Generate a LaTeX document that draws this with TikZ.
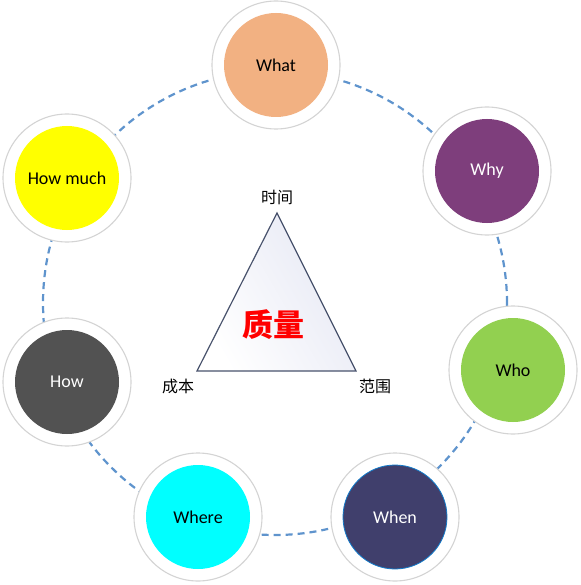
\documentclass[tikz,border=0pt]{standalone}
\usepackage{fontspec}
\setmainfont{Carlito}
\newfontfamily\cjk{Noto Sans CJK SC}
\usetikzlibrary{positioning}
\definecolor{ringline}{RGB}{212,212,212}
\definecolor{dashblue}{RGB}{95,148,205}
\definecolor{trianglefill}{RGB}{230,232,244}
\definecolor{triangleline}{RGB}{72,82,108}
\definecolor{cwhat}{RGB}{242,177,130}
\definecolor{cwhy}{RGB}{126,62,124}
\definecolor{cwho}{RGB}{146,208,80}
\definecolor{cwhen}{RGB}{64,63,108}
\definecolor{cwhere}{RGB}{0,255,255}
\definecolor{chow}{RGB}{82,82,82}
\definecolor{chowmuch}{RGB}{255,255,0}
\tikzset{
    ring/.style = {circle, draw=ringline, line width=1.1pt, fill=white, minimum size=128pt, inner sep=0pt},
    ball/.style = {circle, fill=#1, minimum size=104pt, inner sep=0pt, font=\fontsize{18}{21}\selectfont},
    corner label/.style = {font=\cjk\fontsize{16}{18}\selectfont},
}
\begin{document}
\begin{tikzpicture}[x=1pt, y=-1pt]
    \useasboundingbox (0,0) rectangle (580,585);
    \coordinate (c) at (275,303);
    \draw[dashblue, line width=2.2pt, dash pattern=on 7pt off 5pt] (c) circle (232pt);

    \node (r-what) [ring] at (276,65) {};
    \node (r-why) [ring] at (487,171) {};
    \node (r-who) [ring] at (513,370) {};
    \node (r-when) [ring] at (395,517) {};
    \node (r-where) [ring] at (198,517) {};
    \node (r-how) [ring] at (67,382) {};
    \node (r-howmuch) [ring] at (67,178) {};

    \node (what) [ball=cwhat] at (r-what) {What};
    \node (why) [ball=cwhy, text=white] at (r-why) {Why};
    \node (who) [ball=cwho] at (r-who) {Who};
    \node (when) [ball=cwhen, text=white, draw=cyan!60!blue, line width=0.8pt] at (r-when) {When};
    \node (where) [ball=cwhere] at (r-where) {Where};
    \node (how) [ball=chow, text=white] at (r-how) {How};
    \node (howmuch) [ball=chowmuch] at (r-howmuch) {How much};

    \coordinate (t-top) at (277,213);
    \coordinate (t-left) at (197,371);
    \coordinate (t-right) at (356,371);
    \shade[left color=white, right color=trianglefill, shading angle=120] (t-top) -- (t-left) -- (t-right) -- cycle;
    \draw[triangleline, line width=1.2pt, line join=miter] (t-top) -- (t-left) -- (t-right) -- cycle;

    \node (time) [corner label, above=5pt of t-top] {时间};
    \node (cost) [corner label] at (178,386) {成本};
    \node (scope) [corner label] at (375,386) {范围};
    \node (quality) [font=\cjk\bfseries\fontsize{31}{33}\selectfont, text=red] at (273,325) {质量};
\end{tikzpicture}
\end{document}
